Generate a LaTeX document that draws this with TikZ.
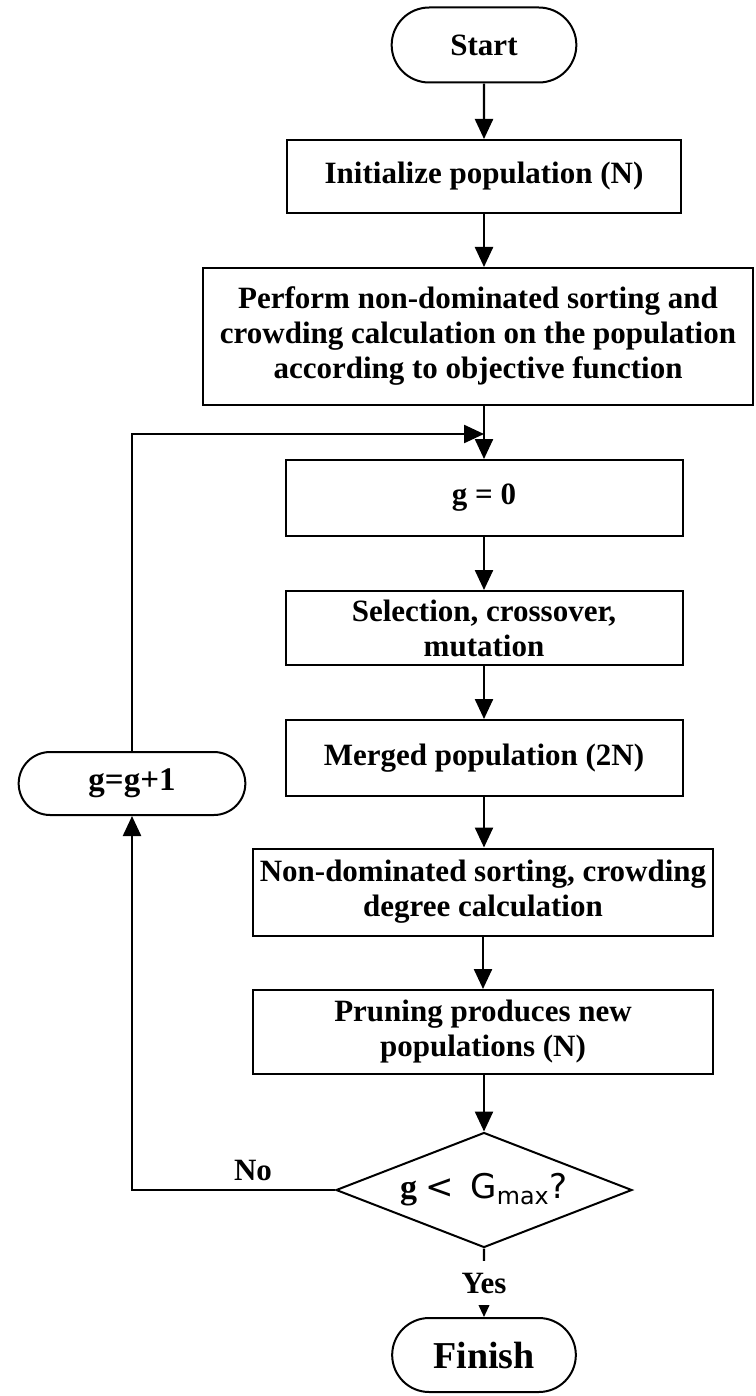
\documentclass[tikz,border=0pt]{standalone}
\usepackage{fontspec}
\setmainfont{Liberation Serif}
\newfontfamily\gmaxfont{DejaVu Sans}
\usetikzlibrary{arrows.meta,shapes.misc,shapes.geometric}

\newcommand\flowsize{\fontsize{15.5}{17.5}\selectfont}

\tikzset{
	flowbox/.style={draw,line width=1pt,inner sep=2pt,align=center,font=\flowsize\bfseries},
	terminal/.style={draw,line width=1pt,rounded rectangle,font=\flowsize\bfseries},
	flowarrow/.style={line width=1.2pt,-{Triangle[length=10pt,width=9pt]}},
}

\begin{document}
\begin{tikzpicture}[x=0.5pt,y=-0.5pt]
		\useasboundingbox (0,0) rectangle (755,1396);

		\node[terminal,minimum width=99pt,minimum height=37.5pt] (start) at (484,45) {Start};
		\node[flowbox,minimum width=197pt,minimum height=36.5pt] (init) at (484,176.5) {Initialize population (N)};
		\node[flowbox,minimum width=275pt,minimum height=68.5pt] (perform) at (478,336.5)
			{Perform non-dominated sorting and\\ crowding calculation on the population\\ according to objective function};
		\node[flowbox,minimum width=198.5pt,minimum height=38pt] (gzero) at (484,498) {g = 0};
		\node[flowbox,minimum width=198.5pt,minimum height=37pt] (select) at (484,628) {Selection, crossover,\\ mutation};
		\node[flowbox,minimum width=198.5pt,minimum height=38pt] (merge) at (484,758) {Merged population (2N)};
		\node[flowbox,minimum width=230pt,minimum height=43.5pt] (sorting) at (483,892) {Non-dominated sorting, crowding\\ degree calculation};
		\node[flowbox,minimum width=230pt,minimum height=42pt] (prune) at (483,1032) {Pruning produces new\\ populations (N)};
		\node[draw,line width=1pt,diamond,aspect=2.6,inner sep=0pt,minimum width=148pt,minimum height=57.5pt,font=\fontsize{17}{20}\selectfont] (cond) at (484,1190)
			{\textbf{g} {\gmaxfont < \,G\textsubscript{max}?}};
		\node[terminal,minimum width=98.5pt,minimum height=37pt,font=\fontsize{19}{22}\selectfont\bfseries] (finish) at (484,1355) {Finish};
		\node[terminal,minimum width=120pt,minimum height=31.5pt,font=\fontsize{16.5}{20}\selectfont\bfseries] (inc) at (132,783.5) {g=g+1};
		\coordinate (join) at (484,434);

		\draw[flowarrow] (start) -- (init);
		\draw[flowarrow] (init) -- (init |- perform.north);
		\draw[flowarrow] (perform.south -| gzero.north) -- (gzero);
		\draw[flowarrow] (gzero) -- (select);
		\draw[flowarrow] (select) -- (merge);
		\draw[flowarrow] (merge) -- (merge |- sorting.north);
		\draw[flowarrow] (sorting) -- (prune);
		\draw[flowarrow] (prune.south -| cond.north) -- (cond);

		\draw[flowarrow] (cond) -- (finish);
		\node[fill=white,inner xsep=3pt,inner ysep=6pt,font=\flowsize\bfseries] (yes) at (484,1283) {Yes};

		\draw[flowarrow] (cond.west) -| (inc);
		\node[font=\flowsize\bfseries] (no) at (253,1170) {No};
		\draw[flowarrow] (inc) |- (join);
	\end{tikzpicture}
\end{document}
